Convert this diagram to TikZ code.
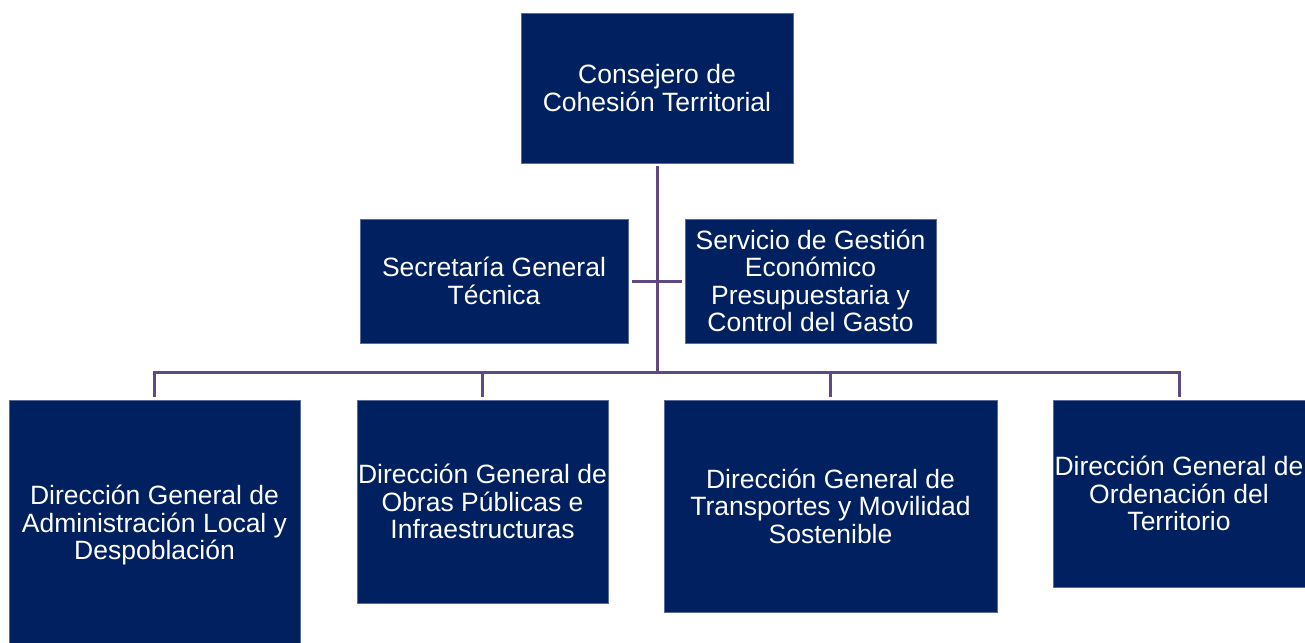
\documentclass[tikz,border=0pt]{standalone}
\usepackage{fontspec}
\setmainfont{Liberation Sans}
\definecolor{navy}{HTML}{002060}
\definecolor{navyedge}{HTML}{5A6A98}
\definecolor{conncol}{HTML}{5E4A80}
\begin{document}
\begin{tikzpicture}[x=1pt,y=-1pt,
  box/.style={rectangle, fill=navy, draw=navyedge, line width=0.8pt, text=white,
    align=center, inner sep=0pt,
    font=\fontsize{26.5}{27.5}\selectfont},
  conn/.style={draw=conncol, line width=3pt}]
\useasboundingbox (0,0) rectangle (1305,642);
\begin{scope}
\clip (0,0) rectangle (1305,642);
\node[box, minimum width=272pt, minimum height=150pt] (top) at (657,88) {Consejero de\\Cohesión Territorial};
\node[box, minimum width=268pt, minimum height=124pt] (sec) at (494,281) {Secretaría General\\Técnica};
\node[box, minimum width=251pt, minimum height=124pt] (serv) at (810.5,281) {Servicio de Gestión\\Económico\\Presupuestaria y\\Control del Gasto};
\node[box, minimum width=291pt, minimum height=250pt] (d1) at (154.5,525) {Dirección General de\\Administración Local y\\Despoblación};
\node[box, minimum width=251pt, minimum height=203pt] (d2) at (482.5,501.5) {Dirección General de\\Obras Públicas e\\Infraestructuras};
\node[box, minimum width=333pt, minimum height=212pt] (d3) at (830.5,506) {Dirección General de\\Transportes y Movilidad\\Sostenible};
\node[box, minimum width=252pt, minimum height=187pt] (d4) at (1179,493.5) {Dirección General de\\Ordenación del\\Territorio};
\coordinate (j) at (657,372);
\draw[conn] ([yshift=-3pt]top.south) -- (j);
\draw[conn] ([xshift=4pt]sec.east) -- ([xshift=-3pt]serv.west);
\draw[conn] ([yshift=3pt]d1.north) -- (d1.north |- j) -- (d4.north |- j) -- ([yshift=3pt]d4.north);
\draw[conn] (d2.north |- j) -- ([yshift=3pt]d2.north);
\draw[conn] (d3.north |- j) -- ([yshift=3pt]d3.north);
\end{scope}
\end{tikzpicture}
\end{document}
